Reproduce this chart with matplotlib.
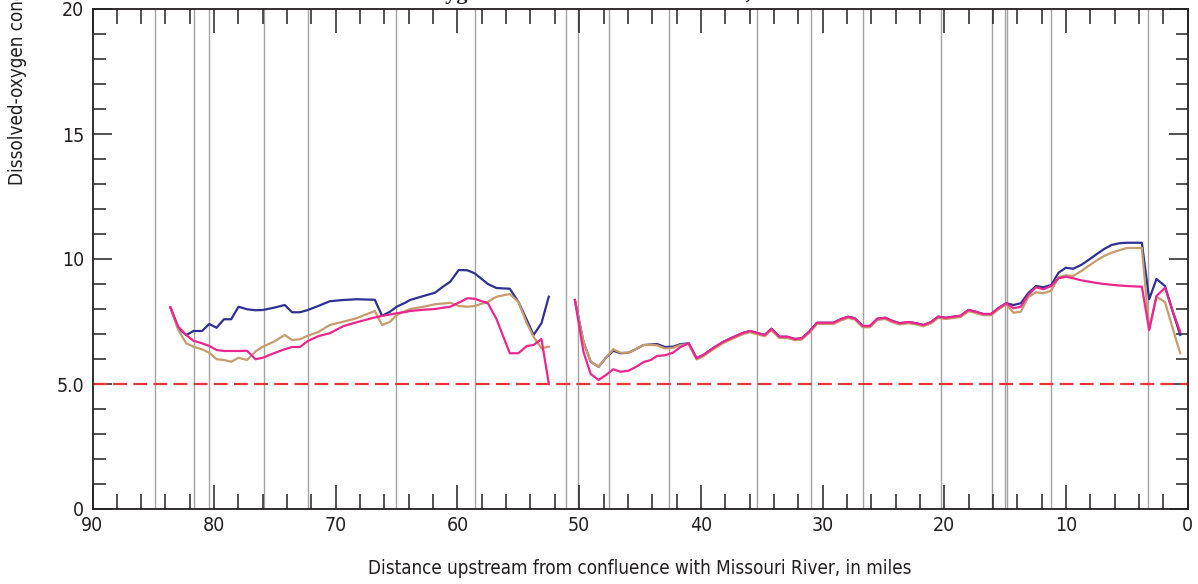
import numpy as np
import matplotlib
matplotlib.use("Agg")
import matplotlib.pyplot as plt
from matplotlib.ticker import MultipleLocator, FixedLocator, FixedFormatter

plt.rcParams['font.family'] = ['Liberation Sans Narrow', 'DejaVu Sans']
plt.rcParams['font.stretch'] = 'condensed'
plt.rcParams['lines.scale_dashes'] = False

nan = np.nan

# River miles of the reference lines (tributaries / structures)
ref_miles = [84.86, 81.63, 80.40, 75.93, 72.26, 65.03, 58.54, 51.06, 50.07,
             47.52, 42.59, 35.36, 30.97, 26.65, 20.29, 16.10, 15.03, 14.86,
             11.20, 3.22]

# Upstream reach (river mile, dissolved oxygen mg/L)
miles_up = [83.6, 82.95, 82.3, 81.7, 81.0, 80.4, 79.8, 79.2, 78.6, 78.0,
            77.3, 76.6, 76.0, 75.1, 74.2, 73.6, 72.95, 72.3, 71.4, 70.5,
            69.4, 68.3, 66.8, 66.2, 65.55, 65.0, 64.3, 63.9, 62.8, 61.85,
            61.2, 60.6, 59.9, 59.2, 58.6, 57.5, 56.8, 55.7, 55.0, 54.3,
            53.75, 53.1, 52.5]
blue_up = [8.07, 7.23, 6.96, 7.12, 7.12, 7.40, 7.25, 7.59, 7.59, 8.09,
           7.99, 7.95, 7.96, 8.05, 8.16, 7.87, 7.87, 7.96, 8.13, 8.31,
           8.36, 8.39, 8.37, 7.73, 7.89, 8.09, 8.25, 8.36, 8.52, 8.65,
           8.89, 9.09, 9.56, 9.55, 9.43, 9.00, 8.84, 8.81, 8.29, 7.56,
           6.96, 7.43, 8.49]
tan_up = [8.07, 7.16, 6.63, 6.49, 6.39, 6.25, 5.99, 5.96, 5.89, 6.05,
          5.96, 6.30, 6.49, 6.69, 6.96, 6.76, 6.79, 6.93, 7.09, 7.36,
          7.49, 7.63, 7.92, 7.36, 7.49, 7.76, 7.92, 8.00, 8.09, 8.19,
          8.22, 8.25, 8.12, 8.09, 8.12, 8.29, 8.49, 8.60, 8.29, 7.43,
          6.89, 6.43, 6.49]
pink_up = [8.07, 7.29, 6.96, 6.73, 6.63, 6.52, 6.36, 6.32, 6.32, 6.32,
           6.33, 5.99, 6.05, 6.23, 6.39, 6.48, 6.48, 6.72, 6.92, 7.03,
           7.31, 7.47, 7.66, 7.72, 7.78, 7.83, 7.88, 7.92, 7.97, 8.00,
           8.05, 8.09, 8.25, 8.43, 8.41, 8.23, 7.60, 6.23, 6.23, 6.52,
           6.56, 6.80, 5.03]

# Downstream reach
miles_dn = [50.35, 49.65, 49.05, 48.4, 47.8, 47.2, 46.6, 45.95, 45.35, 44.7,
            44.1, 43.6, 42.95, 42.3, 41.7, 41.0, 40.35, 39.8, 39.0, 38.15,
            37.35, 36.5, 35.95, 35.3, 34.75, 34.2, 33.55, 32.9, 32.25, 31.7,
            31.1, 30.45, 29.8, 29.1, 28.5, 27.9, 27.35, 26.7, 26.1, 25.5,
            24.85, 24.25, 23.65, 22.95, 22.3, 21.7, 21.1, 20.5, 19.85, 19.25,
            18.65, 18.0, 17.4, 16.8, 16.15, 15.55, 14.9, 14.3, 13.7, 13.1,
            12.45, 11.85, 11.2, 10.6, 10.0, 9.4, 8.75, 8.05, 7.45, 6.85,
            6.25, 5.6, 5.0, 3.75, 3.15, 2.55, 1.85, 1.25, 0.6]
blue_dn = [8.36, 6.69, 5.89, 5.69, 6.05, 6.33, 6.23, 6.25, 6.39, 6.56,
           6.58, 6.60, 6.48, 6.49, 6.59, 6.63, 6.03, 6.16, 6.43, 6.69,
           6.87, 7.05, 7.12, 7.03, 6.96, 7.21, 6.89, 6.89, 6.80, 6.83,
           7.09, 7.45, 7.45, 7.45, 7.59, 7.69, 7.63, 7.32, 7.32, 7.61,
           7.65, 7.52, 7.43, 7.48, 7.43, 7.36, 7.47, 7.69, 7.65, 7.69,
           7.73, 7.96, 7.89, 7.80, 7.80, 8.03, 8.23, 8.16, 8.23, 8.63,
           8.92, 8.87, 8.96, 9.45, 9.65, 9.61, 9.76, 9.99, 10.20, 10.40,
           10.56, 10.63, 10.65, 10.65, 8.39, 9.20, 8.92, 7.96, 6.96]
tan_dn = [8.36, 6.69, 5.89, 5.69, 6.05, 6.39, 6.25, 6.25, 6.39, 6.56,
          6.56, 6.55, 6.42, 6.44, 6.56, 6.60, 5.98, 6.11, 6.38, 6.64,
          6.82, 7.00, 7.07, 6.98, 6.91, 7.16, 6.84, 6.84, 6.75, 6.78,
          7.04, 7.40, 7.40, 7.40, 7.54, 7.64, 7.58, 7.27, 7.27, 7.56,
          7.60, 7.47, 7.38, 7.43, 7.38, 7.31, 7.42, 7.64, 7.60, 7.64,
          7.68, 7.91, 7.84, 7.75, 7.75, 7.98, 8.18, 7.85, 7.89, 8.47,
          8.67, 8.63, 8.73, 9.28, 9.35, 9.32, 9.51, 9.75, 9.95, 10.12,
          10.25, 10.35, 10.44, 10.44, 7.20, 8.49, 8.28, 7.28, 6.23]
pink_dn = [8.36, 6.29, 5.40, 5.16, 5.36, 5.59, 5.49, 5.53, 5.68, 5.88,
           5.96, 6.12, 6.15, 6.25, 6.47, 6.63, 6.03, 6.16, 6.43, 6.69,
           6.87, 7.05, 7.12, 7.03, 6.96, 7.21, 6.89, 6.89, 6.80, 6.83,
           7.09, 7.45, 7.45, 7.45, 7.59, 7.69, 7.63, 7.32, 7.32, 7.61,
           7.65, 7.52, 7.43, 7.48, 7.43, 7.36, 7.47, 7.69, 7.65, 7.69,
           7.73, 7.96, 7.89, 7.80, 7.80, 8.03, 8.23, 8.03, 8.09, 8.56,
           8.87, 8.79, 8.92, 9.23, 9.29, 9.23, 9.15, 9.09, 9.04, 9.00,
           8.97, 8.94, 8.92, 8.89, 7.16, 8.52, 8.85, 7.95, 7.09]

do_standard = 5.0

x_ticks = [90, 80, 70, 60, 50, 40, 30, 20, 10, 0]
y_ticks = [0, 5, 10, 15, 20]
y_tick_labels = ['0', '5.0', '10', '15', '20']

xlabel = 'Distance upstream from confluence with Missouri River, in miles'
ylabel = 'Dissolved-oxygen concentration, in milligrams per liter'
title = 'Dissolved oxygen concentrations in the river, model results'

BLUE = '#2e3192'
TAN = '#c69c6d'
PINK = '#ec268f'
RED = '#ee3338'
GREY = '#a3a3a3'
INK = '#231f20'

W, H = 1198, 584
fig = plt.figure(figsize=(W / 100, H / 100), dpi=100)
ax = fig.add_axes([92.5 / W, 1 - 509 / H, 1095 / W, 500 / H])

for m in ref_miles:
    ax.axvline(m, color=GREY, lw=1.0, zorder=1)

ax.axhline(do_standard, color=RED, lw=1.6, dashes=(10, 4.5), zorder=2)


def join(a, b):
    return list(a) + [nan] + list(b)


mx = join(miles_up, miles_dn)
ax.plot(mx, join(blue_up, blue_dn), color=BLUE, lw=1.6, zorder=3)
ax.plot(mx, join(tan_up, tan_dn), color=TAN, lw=1.6, zorder=4)
ax.plot(mx, join(pink_up, pink_dn), color=PINK, lw=1.6, zorder=5)

ax.set_xlim(90, 0)
ax.set_ylim(0, 20)

ax.xaxis.set_major_locator(FixedLocator(x_ticks))
ax.xaxis.set_minor_locator(MultipleLocator(2))
ax.yaxis.set_major_locator(FixedLocator(y_ticks))
ax.yaxis.set_major_formatter(FixedFormatter(y_tick_labels))
ax.yaxis.set_minor_locator(MultipleLocator(1))

ax.tick_params(axis='x', which='major', direction='in', top=True, length=17,
               width=1.1, labelsize=14, pad=5, color=INK, labelcolor=INK)
ax.tick_params(axis='x', which='minor', direction='in', top=True, length=11,
               width=1.1, color=INK)
ax.tick_params(axis='y', which='major', direction='in', right=True, length=14,
               width=1.1, labelsize=14, pad=6, color=INK, labelcolor=INK)
ax.tick_params(axis='y', which='minor', direction='in', right=True, length=9,
               width=1.1, color=INK)
for s in ax.spines.values():
    s.set_linewidth(1.3)
    s.set_color(INK)

ax.set_xlabel(xlabel, fontsize=13.5, labelpad=17, color=INK)

fig.text(18 / W, 1 - 185 / H, ylabel, rotation=90, ha='center', va='bottom',
         fontsize=13.5, color=INK)
fig.text(0.505, 1.0 + 0.5 / H, title, ha='center', va='baseline',
         fontsize=16, fontweight='bold', fontstretch='normal',
         family=['Liberation Serif', 'DejaVu Serif'], color=INK)

fig.savefig('out.png', dpi=100)
